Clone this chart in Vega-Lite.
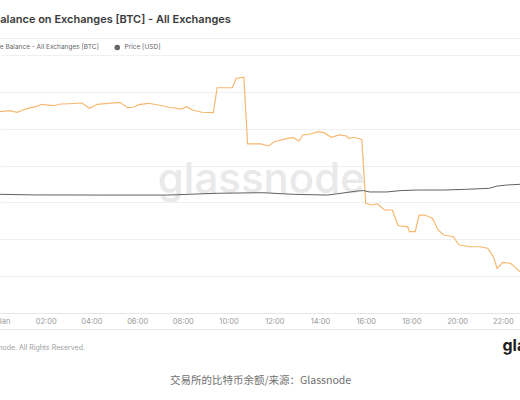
{
  "$schema": "https://vega.github.io/schema/vega-lite/v6.json",
  "width": 520,
  "height": 258,
  "autosize": {"type": "none"},
  "padding": {"left": 0, "top": 55, "right": 0, "bottom": 87},
  "background": "white",
  "config": {
    "view": {"stroke": null},
    "font": "Inter"
  },
  "title": {
    "text": "Balance on Exchanges [BTC] - All Exchanges",
    "anchor": "start",
    "frame": "group",
    "dx": -7,
    "fontSize": 11,
    "fontWeight": 600,
    "color": "#3a3a3a",
    "font": "Inter",
    "offset": 13
  },
  "datasets": {
    "balance": [
      {"t": "2023-01-06T00:00", "v": 2273310},
      {"t": "2023-01-06T00:25", "v": 2273440},
      {"t": "2023-01-06T00:45", "v": 2273230},
      {"t": "2023-01-06T01:00", "v": 2273540},
      {"t": "2023-01-06T01:20", "v": 2273850},
      {"t": "2023-01-06T01:35", "v": 2273990},
      {"t": "2023-01-06T01:50", "v": 2274310},
      {"t": "2023-01-06T02:20", "v": 2274120},
      {"t": "2023-01-06T02:40", "v": 2274350},
      {"t": "2023-01-06T03:00", "v": 2274390},
      {"t": "2023-01-06T03:35", "v": 2274490},
      {"t": "2023-01-06T03:55", "v": 2273770},
      {"t": "2023-01-06T04:15", "v": 2274310},
      {"t": "2023-01-06T04:45", "v": 2274450},
      {"t": "2023-01-06T05:15", "v": 2274580},
      {"t": "2023-01-06T05:35", "v": 2273850},
      {"t": "2023-01-06T05:50", "v": 2273910},
      {"t": "2023-01-06T06:05", "v": 2274260},
      {"t": "2023-01-06T06:30", "v": 2274450},
      {"t": "2023-01-06T06:55", "v": 2274220},
      {"t": "2023-01-06T07:25", "v": 2273910},
      {"t": "2023-01-06T07:55", "v": 2273670},
      {"t": "2023-01-06T08:10", "v": 2273990},
      {"t": "2023-01-06T08:25", "v": 2273540},
      {"t": "2023-01-06T08:50", "v": 2273230},
      {"t": "2023-01-06T09:20", "v": 2273170},
      {"t": "2023-01-06T09:30", "v": 2276560},
      {"t": "2023-01-06T10:10", "v": 2276560},
      {"t": "2023-01-06T10:20", "v": 2277840},
      {"t": "2023-01-06T10:40", "v": 2277980},
      {"t": "2023-01-06T10:50", "v": 2268930},
      {"t": "2023-01-06T11:25", "v": 2268930},
      {"t": "2023-01-06T11:45", "v": 2268660},
      {"t": "2023-01-06T12:00", "v": 2269240},
      {"t": "2023-01-06T12:35", "v": 2269700},
      {"t": "2023-01-06T12:50", "v": 2269780},
      {"t": "2023-01-06T13:05", "v": 2269330},
      {"t": "2023-01-06T13:15", "v": 2270150},
      {"t": "2023-01-06T13:35", "v": 2270280},
      {"t": "2023-01-06T13:55", "v": 2270600},
      {"t": "2023-01-06T14:10", "v": 2270460},
      {"t": "2023-01-06T14:30", "v": 2269840},
      {"t": "2023-01-06T14:50", "v": 2270150},
      {"t": "2023-01-06T15:10", "v": 2270010},
      {"t": "2023-01-06T15:15", "v": 2269700},
      {"t": "2023-01-06T15:30", "v": 2269840},
      {"t": "2023-01-06T15:45", "v": 2269610},
      {"t": "2023-01-06T15:50", "v": 2269470},
      {"t": "2023-01-06T16:00", "v": 2260880},
      {"t": "2023-01-06T16:15", "v": 2260650},
      {"t": "2023-01-06T16:30", "v": 2260790},
      {"t": "2023-01-06T16:50", "v": 2259970},
      {"t": "2023-01-06T17:10", "v": 2259970},
      {"t": "2023-01-06T17:25", "v": 2257840},
      {"t": "2023-01-06T17:50", "v": 2257710},
      {"t": "2023-01-06T17:55", "v": 2257030},
      {"t": "2023-01-06T18:10", "v": 2257030},
      {"t": "2023-01-06T18:20", "v": 2259290},
      {"t": "2023-01-06T18:35", "v": 2259290},
      {"t": "2023-01-06T18:55", "v": 2258850},
      {"t": "2023-01-06T19:10", "v": 2257260},
      {"t": "2023-01-06T19:25", "v": 2256580},
      {"t": "2023-01-06T19:50", "v": 2256350},
      {"t": "2023-01-06T20:05", "v": 2255220},
      {"t": "2023-01-06T20:35", "v": 2254990},
      {"t": "2023-01-06T21:00", "v": 2254990},
      {"t": "2023-01-06T21:20", "v": 2254780},
      {"t": "2023-01-06T21:35", "v": 2253640},
      {"t": "2023-01-06T21:45", "v": 2252060},
      {"t": "2023-01-06T22:00", "v": 2252880},
      {"t": "2023-01-06T22:20", "v": 2252740},
      {"t": "2023-01-06T22:35", "v": 2252060},
      {"t": "2023-01-06T22:45", "v": 2251600}
    ],
    "price": [
      {"t": "2023-01-06T00:00", "p": 16805},
      {"t": "2023-01-06T01:30", "p": 16801},
      {"t": "2023-01-06T04:30", "p": 16800},
      {"t": "2023-01-06T07:20", "p": 16800},
      {"t": "2023-01-06T09:30", "p": 16812},
      {"t": "2023-01-06T11:30", "p": 16816},
      {"t": "2023-01-06T12:50", "p": 16805},
      {"t": "2023-01-06T14:20", "p": 16800},
      {"t": "2023-01-06T14:55", "p": 16812},
      {"t": "2023-01-06T15:40", "p": 16828},
      {"t": "2023-01-06T15:55", "p": 16830},
      {"t": "2023-01-06T16:10", "p": 16821},
      {"t": "2023-01-06T16:55", "p": 16821},
      {"t": "2023-01-06T17:30", "p": 16830},
      {"t": "2023-01-06T18:15", "p": 16834},
      {"t": "2023-01-06T19:25", "p": 16834},
      {"t": "2023-01-06T20:25", "p": 16839},
      {"t": "2023-01-06T21:25", "p": 16846},
      {"t": "2023-01-06T21:45", "p": 16861},
      {"t": "2023-01-06T22:10", "p": 16868},
      {"t": "2023-01-06T22:45", "p": 16873}
    ],
    "wm": [
      {"t": "2023-01-06T11:26", "v": 2262280, "w": "glassnode"}
    ]
  },
  "resolve": {
    "scale": {"y": "independent"},
    "axis": {"x": "independent", "y": "independent"}
  },
  "layer": [
    {
      "data": {"name": "wm"},
      "mark": {"type": "text", "fontSize": 42, "font": "Inter", "fontWeight": 500, "color": "#e9e9e9", "align": "center", "baseline": "alphabetic"},
      "encoding": {
        "text": {"field": "w"},
        "x": {
          "field": "t",
          "type": "temporal",
          "scale": {"domain": [{"year": 2023, "month": 1, "date": 6, "hours": 0}, {"year": 2023, "month": 1, "date": 6, "hours": 22, "minutes": 45}]},
          "axis": {"orient": "top", "offset": 17, "domain": true, "domainColor": "#ececec", "labels": false, "ticks": false, "grid": false, "title": null}
        },
        "y": {
          "field": "v",
          "type": "quantitative",
          "scale": {"domain": [2246000, 2281000]},
          "axis": null
        }
      }
    },
    {
      "data": {"name": "balance"},
      "mark": {"type": "line", "strokeWidth": 1.2},
      "encoding": {
        "x": {
          "field": "t",
          "type": "temporal",
          "scale": {"domain": [{"year": 2023, "month": 1, "date": 6, "hours": 0}, {"year": 2023, "month": 1, "date": 6, "hours": 22, "minutes": 45}]},
          "axis": {
            "orient": "bottom",
            "values": [
              {"year": 2023, "month": 1, "date": 6, "hours": 0},
              {"year": 2023, "month": 1, "date": 6, "hours": 2},
              {"year": 2023, "month": 1, "date": 6, "hours": 4},
              {"year": 2023, "month": 1, "date": 6, "hours": 6},
              {"year": 2023, "month": 1, "date": 6, "hours": 8},
              {"year": 2023, "month": 1, "date": 6, "hours": 10},
              {"year": 2023, "month": 1, "date": 6, "hours": 12},
              {"year": 2023, "month": 1, "date": 6, "hours": 14},
              {"year": 2023, "month": 1, "date": 6, "hours": 16},
              {"year": 2023, "month": 1, "date": 6, "hours": 18},
              {"year": 2023, "month": 1, "date": 6, "hours": 20},
              {"year": 2023, "month": 1, "date": 6, "hours": 22}
            ],
            "format": "%H:%M",
            "labelExpr": "datum.label == '00:00' ? '6 Jan' : datum.label",
            "labelFont": "Inter",
            "labelFontSize": 7.5,
            "labelColor": "#999999",
            "labelPadding": 4,
            "labelFlush": false,
            "labelOverlap": false,
            "ticks": false,
            "grid": false,
            "domain": true,
            "domainColor": "#e6e6e6",
            "title": "© 2023 Glassnode. All Rights Reserved.",
            "titleFont": "Inter",
            "titleFontSize": 7,
            "titleFontWeight": "normal",
            "titleColor": "#a0a0a0",
            "titleAnchor": "start",
            "titleAlign": "left",
            "titleBaseline": "middle",
            "titleX": -48,
            "titleY": 34
          }
        },
        "y": {
          "field": "v",
          "type": "quantitative",
          "scale": {"domain": [2246000, 2281000]},
          "axis": {
            "values": [2246000, 2251000, 2256000, 2261000, 2266000, 2271000, 2276000, 2281000],
            "grid": true,
            "gridColor": "#f0f0f0",
            "labels": false,
            "ticks": false,
            "domain": false,
            "title": "glassnode",
            "titleFont": "Inter",
            "titleAngle": 0,
            "titleFontSize": 16,
            "titleFontWeight": "bold",
            "titleColor": "#1e1e1e",
            "titleAlign": "left",
            "titleBaseline": "middle",
            "titleX": 502,
            "titleY": 290
          }
        },
        "color": {
          "datum": "Exchange Balance - All Exchanges [BTC]",
          "type": "nominal",
          "scale": {"domain": ["Exchange Balance - All Exchanges [BTC]", "Price [USD]"], "range": ["#f6b870", "#626262"]},
          "legend": {
            "orient": "none",
            "direction": "horizontal",
            "legendX": -37,
            "legendY": -11,
            "padding": 0,
            "title": null,
            "symbolType": "circle",
            "symbolSize": 9,
            "symbolStrokeWidth": 2.5,
            "labelFontSize": 6.5,
            "labelColor": "#666666",
            "labelFont": "Inter",
            "columnPadding": 11
          }
        }
      }
    },
    {
      "data": {"name": "price"},
      "mark": {"type": "line", "strokeWidth": 1},
      "encoding": {
        "x": {
          "field": "t",
          "type": "temporal",
          "scale": {"domain": [{"year": 2023, "month": 1, "date": 6, "hours": 0}, {"year": 2023, "month": 1, "date": 6, "hours": 22, "minutes": 45}]},
          "axis": {
            "orient": "bottom",
            "offset": 16,
            "labels": false,
            "ticks": false,
            "grid": false,
            "domain": true,
            "domainColor": "#e6e6e6",
            "title": "交易所的比特币余额/来源：Glassnode",
            "titleFont": "Noto Sans CJK SC",
            "titleFontSize": 10.5,
            "titleFontWeight": "normal",
            "titleColor": "#707070",
            "titleAnchor": "middle",
            "titleBaseline": "middle",
            "titleY": 51
          }
        },
        "y": {
          "field": "p",
          "type": "quantitative",
          "scale": {"domain": [16000, 17750]},
          "axis": null
        },
        "color": {"datum": "Price [USD]", "type": "nominal"}
      }
    }
  ]
}
